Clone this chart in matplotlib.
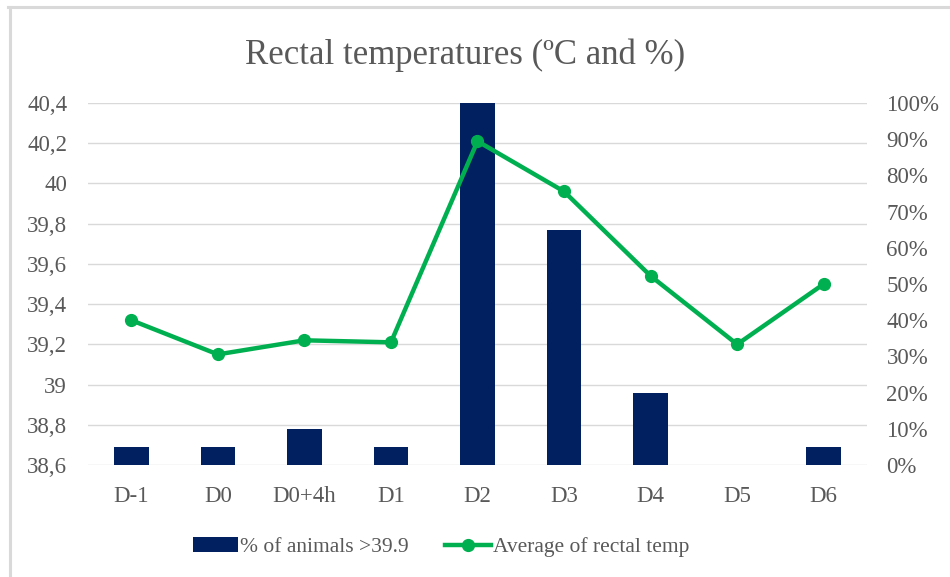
import matplotlib.pyplot as plt
from matplotlib.lines import Line2D
from matplotlib.patches import Patch

# dados
dias = ["D-1", "D0", "D0+4h", "D1", "D2", "D3", "D4", "D5", "D6"]
pct_acima = [5, 5, 10, 5, 100, 65, 20, 0, 5]  # % de animais > 39.9
temp_media = [39.32, 39.15, 39.22, 39.21, 40.21, 39.96, 39.54, 39.20, 39.50]

temp_ticks = [38.6, 38.8, 39.0, 39.2, 39.4, 39.6, 39.8, 40.0, 40.2, 40.4]
pct_ticks = [0, 10, 20, 30, 40, 50, 60, 70, 80, 90, 100]

cor_barra = "#002060"
cor_linha = "#00B050"
cor_texto = "#595959"
fonte = "Liberation Serif"

W, H = 950, 577
fig = plt.figure(figsize=(W / 100, H / 100), dpi=100)
ax = fig.add_axes([88 / W, (H - 465) / H, (867 - 88) / W, (465 - 103) / H])
ax2 = ax.twinx()

x = list(range(len(dias)))

# barras no eixo da direita (%), linha no eixo da esquerda (ºC)
ax2.bar(x, pct_acima, width=0.40, color=cor_barra, zorder=2)
ax2.set_ylim(0, 100)
ax2.set_yticks(pct_ticks)
ax2.set_yticklabels([f"{p}%" for p in pct_ticks])

ax.set_ylim(38.6, 40.4)
ax.set_yticks(temp_ticks)
ax.set_yticklabels([f"{t:g}".replace(".", ",") for t in temp_ticks])
ax.set_xlim(-0.5, len(dias) - 0.5)
ax.set_xticks(x)
ax.set_xticklabels(dias)

for t in temp_ticks:
    ax2.axhline((t - 38.6) / 1.8 * 100, color="#D9D9D9", lw=1.0, zorder=0)

# linha desenhada por cima das barras
ax.set_zorder(ax2.get_zorder() + 1)
ax.patch.set_visible(False)
ax.plot(x, temp_media, color=cor_linha, lw=3.2, marker="o", markersize=8.5, zorder=3)

for a in (ax, ax2):
    for s in a.spines.values():
        s.set_visible(False)
    a.tick_params(length=0, labelsize=16.5, labelcolor=cor_texto)
    for lbl in a.get_xticklabels() + a.get_yticklabels():
        lbl.set_fontfamily(fonte)
ax.tick_params(axis="y", pad=15)
ax.tick_params(axis="x", pad=15)
ax2.tick_params(axis="y", pad=14)

fig.text(465 / W, 1 - 55 / H, "Rectal temperatures (ºC and %)", ha="center", va="center",
         fontsize=25, color=cor_texto, family=fonte)

handles = [
    Patch(facecolor=cor_barra, label="% of animals >39.9"),
    Line2D([], [], color=cor_linha, lw=3.2, marker="o", markersize=8.5,
           label="Average of rectal temp"),
]
fig.legend(handles=handles, loc="center", bbox_to_anchor=(441 / W, 1 - 547 / H), ncol=2,
           frameon=False, prop={"family": fonte, "size": 15.5}, labelcolor=cor_texto,
           handlelength=2.1, handletextpad=0.1, columnspacing=1.7)

# moldura cinza do gráfico (só aparecem a esquerda e o topo)
fig.add_artist(Line2D([9.5 / W, 9.5 / W], [0, 1 - 7 / H], color="#D9D9D9", lw=2.2))
fig.add_artist(Line2D([8 / W, 1], [1 - 7 / H, 1 - 7 / H], color="#D9D9D9", lw=2.2))

fig.savefig("out.png", dpi=100)
